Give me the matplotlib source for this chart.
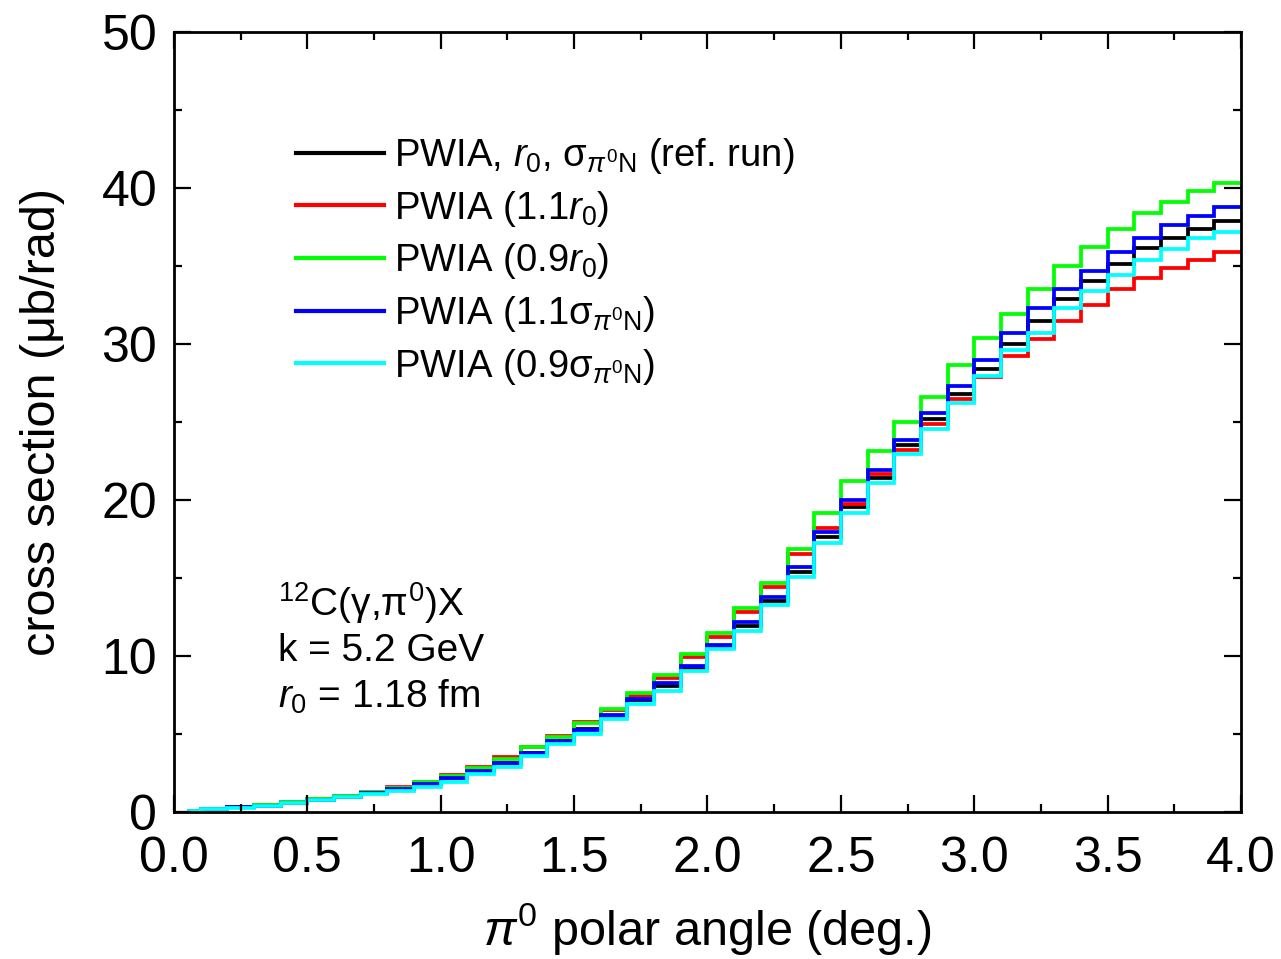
import numpy as np
import matplotlib
matplotlib.use("Agg")
import matplotlib.pyplot as plt

plt.rcParams['font.family'] = ['Liberation Sans', 'DejaVu Sans']
plt.rcParams['mathtext.fontset'] = 'custom'
plt.rcParams['mathtext.rm'] = 'Liberation Sans'
plt.rcParams['mathtext.it'] = 'Liberation Sans:italic'
plt.rcParams['mathtext.bf'] = 'Liberation Sans:bold'

# bin edges (deg.)
edges = [0.05] + [round(0.1 * i, 1) for i in range(1, 41)]

ref_run = [0.05, 0.17, 0.29, 0.41, 0.58, 0.78, 0.97, 1.22, 1.45, 1.80,
           2.15, 2.60, 3.15, 3.80, 4.55, 5.30, 6.15, 7.15, 8.10, 9.25,
           10.60, 11.95, 13.50, 15.40, 17.65, 19.57, 21.43, 23.50, 25.17, 26.80,
           28.40, 30.00, 31.50, 32.90, 34.06, 35.13, 36.17, 36.80, 37.40, 37.90]
r0_11 = [0.06, 0.19, 0.31, 0.44, 0.62, 0.82, 1.02, 1.30, 1.62, 1.95,
         2.37, 2.90, 3.55, 4.15, 4.85, 5.75, 6.55, 7.46, 8.61, 9.91,
         11.24, 12.82, 14.40, 16.54, 18.20, 19.72, 21.67, 23.20, 24.87, 26.50,
         27.90, 29.20, 30.30, 31.50, 32.50, 33.50, 34.20, 34.90, 35.40, 35.90]
r0_09 = [0.06, 0.18, 0.31, 0.44, 0.62, 0.83, 1.03, 1.28, 1.56, 1.92,
         2.33, 2.80, 3.38, 4.15, 4.83, 5.72, 6.60, 7.61, 8.78, 10.11,
         11.45, 13.06, 14.66, 16.86, 19.19, 21.24, 23.16, 25.02, 26.62, 28.65,
         30.40, 31.90, 33.50, 35.00, 36.20, 37.40, 38.40, 39.10, 39.80, 40.30]
sig_11 = [0.05, 0.17, 0.29, 0.41, 0.58, 0.79, 0.98, 1.23, 1.47, 1.80,
          2.16, 2.63, 3.12, 3.76, 4.53, 5.26, 6.20, 7.25, 8.25, 9.38,
          10.71, 12.20, 13.76, 15.68, 17.97, 20.00, 21.92, 23.85, 25.56, 27.30,
          29.00, 30.70, 32.30, 33.50, 34.70, 35.90, 36.80, 37.60, 38.20, 38.80]
sig_09 = [0.05, 0.16, 0.27, 0.39, 0.55, 0.75, 0.93, 1.17, 1.32, 1.62,
          1.94, 2.41, 2.90, 3.59, 4.36, 5.00, 5.95, 6.95, 7.78, 9.02,
          10.43, 11.62, 13.27, 15.08, 17.22, 19.19, 21.11, 22.93, 24.53, 26.20,
          27.95, 29.60, 30.70, 32.30, 33.40, 34.40, 35.40, 36.10, 36.80, 37.20]

labels = [r"PWIA, $r_0$, $\mathrm{\sigma}_{\pi^0\mathrm{N}}$ (ref. run)",
          r"PWIA (1.1$r_0$)",
          r"PWIA (0.9$r_0$)",
          r"PWIA (1.1$\mathrm{\sigma}_{\pi^0\mathrm{N}}$)",
          r"PWIA (0.9$\mathrm{\sigma}_{\pi^0\mathrm{N}}$)"]
colors = ['#000000', '#ff0000', '#00ff00', '#0000ff', '#00ffff']
series = [ref_run, r0_11, r0_09, sig_11, sig_09]

fig = plt.figure(figsize=(12.81, 9.59), dpi=100)
ax = fig.add_axes([0.1358, 0.1533, 0.9688 - 0.1358, 0.9666 - 0.1533])

for vals, c, lab in zip(series, colors, labels):
    ax.stairs(vals, edges, color=c, linewidth=2.7, label=lab, baseline=None)

ax.set_xlim(0, 4.0)
ax.set_ylim(0, 50)
ax.set_xticks(np.arange(0, 4.01, 0.5))
ax.set_xticks(np.arange(0, 4.01, 0.25), minor=True)
ax.set_yticks(np.arange(0, 51, 10))
ax.set_yticks(np.arange(0, 51, 5), minor=True)
ax.xaxis.set_major_formatter(matplotlib.ticker.FormatStrFormatter('%.1f'))
ax.tick_params(which='both', direction='in', top=True, right=True, width=1.6,
               labelsize=36)
ax.tick_params(which='major', length=12)
ax.tick_params(axis='x', which='major', pad=17)
ax.tick_params(axis='y', which='major', pad=12)
ax.tick_params(which='minor', length=6)
for s in ax.spines.values():
    s.set_linewidth(2.0)

ax.set_xlabel(r"$\pi^0$ polar angle (deg.)", fontsize=35, labelpad=14)
ax.set_ylabel("cross section (μb/rad)", fontsize=35, labelpad=26)

leg = ax.legend(loc='upper left', bbox_to_anchor=(0.1, 0.886), frameon=False,
                fontsize=27.5, handlelength=2.3, handletextpad=0.28,
                labelspacing=0.33, borderaxespad=0)
for h in leg.get_lines():
    h.set_linewidth(3)

ax.text(0.0975, 0.268, r"$^{12}$C(γ,π$^0$)X", transform=ax.transAxes,
        fontsize=28, va='center', ha='left')
ax.text(0.0975, 0.206, "k = 5.2 GeV", transform=ax.transAxes,
        fontsize=28, va='center', ha='left')
ax.text(0.0975, 0.147, r"$r_0$ = 1.18 fm", transform=ax.transAxes,
        fontsize=28, va='center', ha='left')

fig.savefig("out.png", dpi=100)
